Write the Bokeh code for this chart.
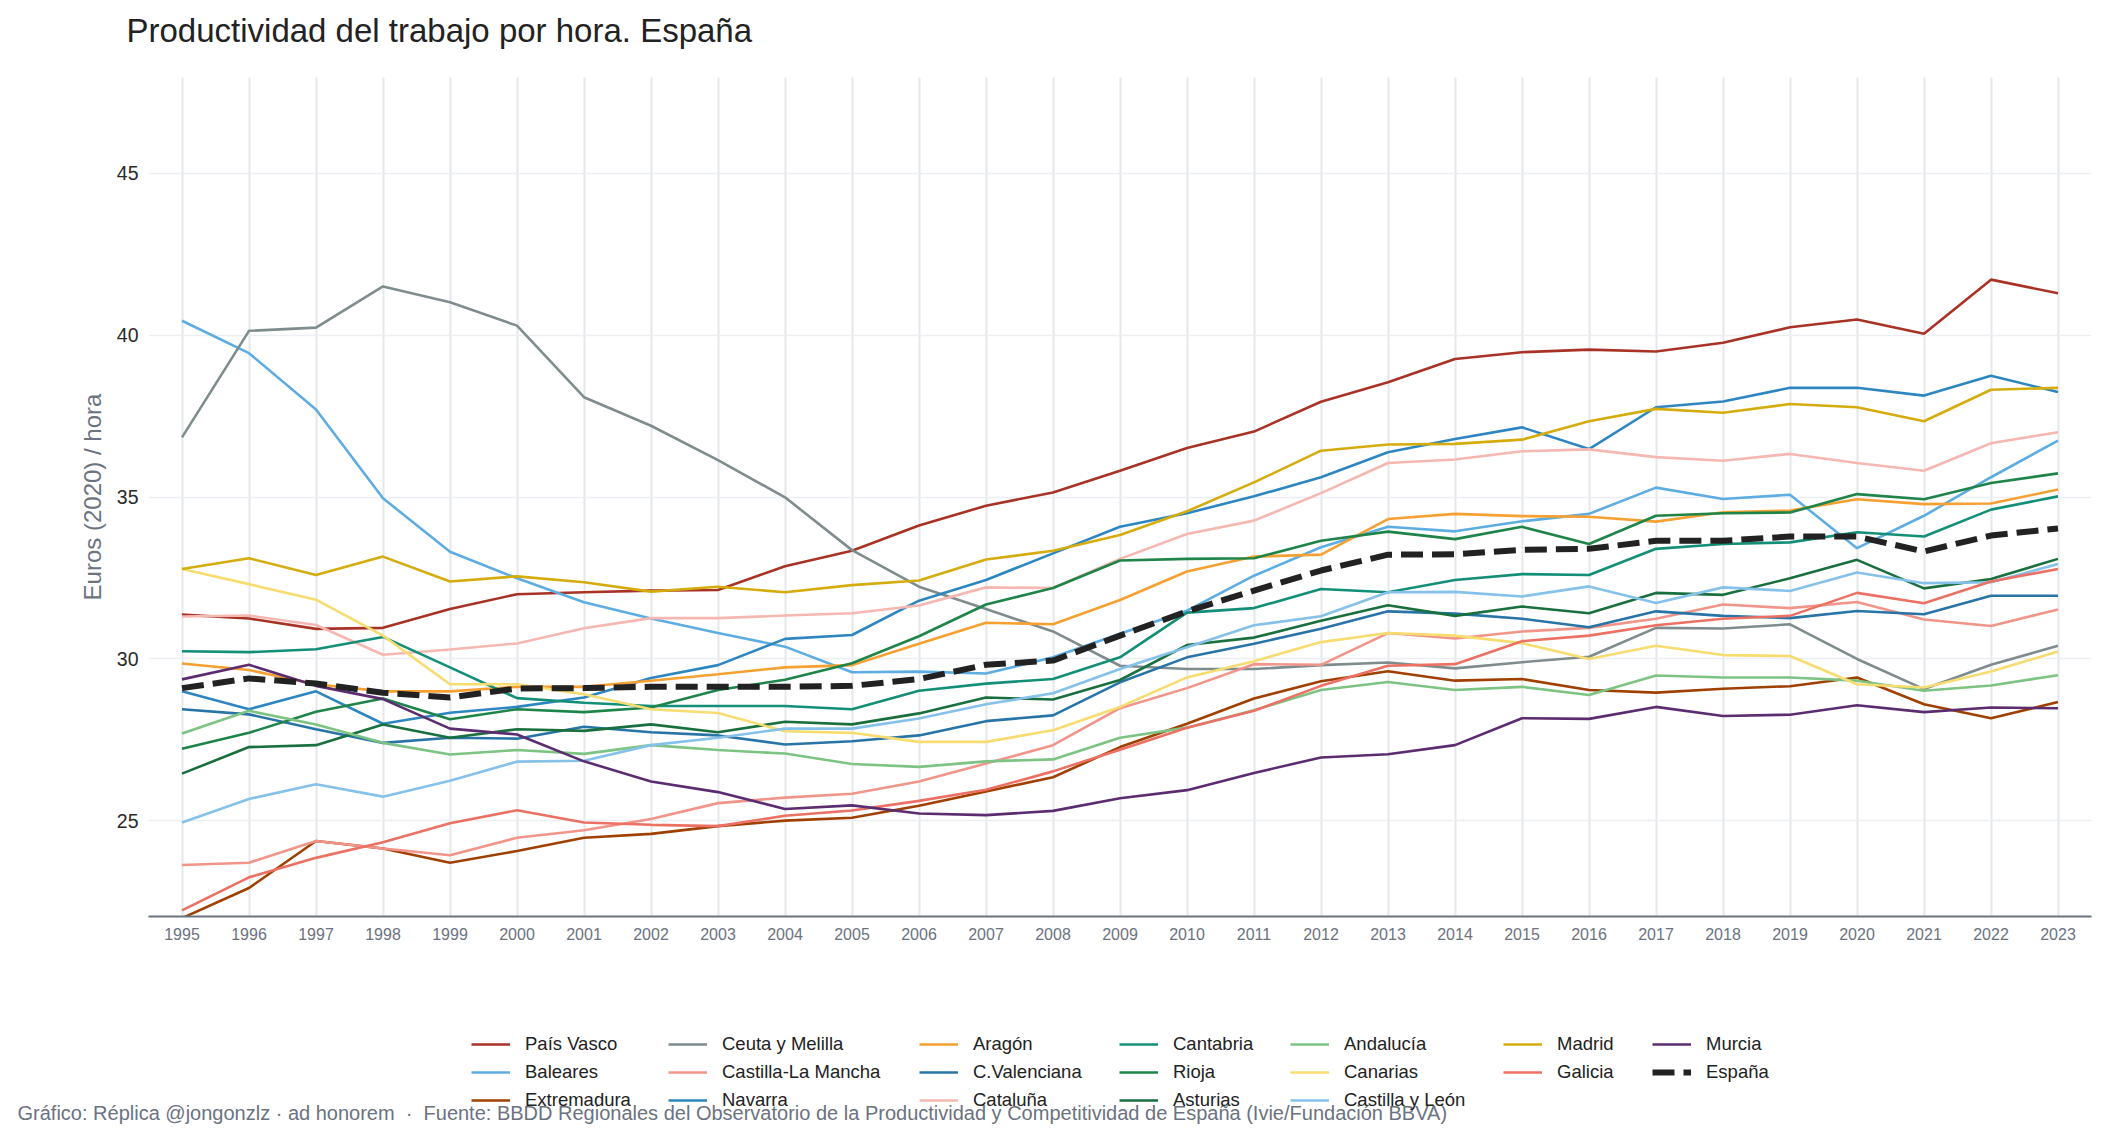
from bokeh.plotting import figure
from bokeh.layouts import column
from bokeh.models import Legend, LegendItem, Label, FixedTicker, Range1d
from bokeh.embed import file_html
from bokeh.resources import INLINE

# --- data: labour productivity per hour, euros (2020) ---
years = list(range(1995, 2024))

pais_vasco = [31.37, 31.25, 30.93, 30.96, 31.54, 32.00, 32.06, 32.11, 32.13, 32.86,
              33.34, 34.12, 34.73, 35.14, 35.81, 36.51, 37.02, 37.94, 38.54, 39.26,
              39.47, 39.55, 39.49, 39.76, 40.24, 40.48, 40.04, 41.71, 41.29]
baleares = [40.44, 39.44, 37.70, 34.96, 33.31, 32.49, 31.75, 31.25, 30.80, 30.38,
            29.59, 29.61, 29.55, 30.05, 30.78, 31.49, 32.57, 33.45, 34.08, 33.94,
            34.25, 34.48, 35.29, 34.94, 35.07, 33.42, 34.42, 35.61, 36.74]
extremadura = [22.00, 22.93, 24.38, 24.15, 23.71, 24.07, 24.48, 24.60, 24.84, 25.01,
               25.10, 25.47, 25.91, 26.35, 27.28, 28.00, 28.78, 29.31, 29.62, 29.33,
               29.38, 29.04, 28.96, 29.08, 29.16, 29.43, 28.60, 28.17, 28.67]
ceuta_melilla = [36.84, 40.13, 40.23, 41.50, 41.01, 40.29, 38.08, 37.20, 36.14, 34.99,
                 33.36, 32.23, 31.54, 30.85, 29.79, 29.69, 29.69, 29.81, 29.89, 29.71,
                 29.90, 30.07, 30.96, 30.94, 31.07, 30.00, 29.07, 29.82, 30.41]
castilla_la_mancha = [23.64, 23.71, 24.38, 24.15, 23.94, 24.48, 24.71, 25.06, 25.55, 25.72,
                      25.84, 26.22, 26.77, 27.34, 28.48, 29.10, 29.84, 29.82, 30.80, 30.63,
                      30.85, 30.96, 31.24, 31.68, 31.57, 31.76, 31.22, 31.02, 31.53]
navarra = [29.00, 28.45, 29.00, 28.00, 28.34, 28.52, 28.81, 29.41, 29.81, 30.62,
           30.74, 31.80, 32.44, 33.26, 34.08, 34.50, 35.02, 35.61, 36.38, 36.79,
           37.15, 36.48, 37.77, 37.95, 38.37, 38.37, 38.13, 38.74, 38.24]
aragon = [29.86, 29.66, 29.22, 29.00, 29.00, 29.14, 29.14, 29.33, 29.53, 29.74,
          29.81, 30.47, 31.12, 31.07, 31.82, 32.70, 33.16, 33.22, 34.32, 34.48,
          34.41, 34.39, 34.24, 34.53, 34.58, 34.93, 34.78, 34.80, 35.23]
c_valenciana = [28.45, 28.29, 27.83, 27.41, 27.57, 27.54, 27.91, 27.74, 27.64, 27.36,
                27.46, 27.64, 28.08, 28.26, 29.28, 30.05, 30.47, 30.93, 31.47, 31.40,
                31.24, 30.98, 31.47, 31.33, 31.26, 31.48, 31.38, 31.95, 31.95]
cataluna = [31.31, 31.34, 31.05, 30.13, 30.29, 30.48, 30.95, 31.26, 31.26, 31.34,
            31.41, 31.65, 32.21, 32.19, 33.09, 33.86, 34.27, 35.12, 36.05, 36.16,
            36.41, 36.47, 36.23, 36.12, 36.33, 36.05, 35.81, 36.66, 37.00]
cantabria = [30.24, 30.21, 30.30, 30.68, 29.74, 28.79, 28.65, 28.55, 28.55, 28.55,
             28.45, 29.02, 29.24, 29.38, 30.05, 31.43, 31.57, 32.16, 32.06, 32.44,
             32.62, 32.59, 33.40, 33.55, 33.60, 33.91, 33.78, 34.61, 35.02]
rioja = [27.23, 27.72, 28.37, 28.78, 28.14, 28.45, 28.36, 28.50, 29.04, 29.36,
         29.87, 30.70, 31.68, 32.19, 33.04, 33.09, 33.11, 33.65, 33.93, 33.70,
         34.08, 33.55, 34.42, 34.50, 34.52, 35.09, 34.93, 35.43, 35.73]
asturias = [26.46, 27.28, 27.34, 27.98, 27.57, 27.83, 27.78, 27.98, 27.74, 28.06,
            27.98, 28.32, 28.81, 28.75, 29.35, 30.43, 30.66, 31.18, 31.66, 31.33,
            31.62, 31.41, 32.04, 31.98, 32.49, 33.06, 32.18, 32.47, 33.09]
andalucia = [27.70, 28.40, 27.98, 27.41, 27.05, 27.19, 27.07, 27.34, 27.19, 27.08,
             26.76, 26.67, 26.84, 26.90, 27.57, 27.88, 28.42, 29.04, 29.29, 29.04,
             29.14, 28.89, 29.49, 29.43, 29.43, 29.33, 29.02, 29.18, 29.50]
canarias = [32.78, 32.31, 31.83, 30.72, 29.22, 29.22, 28.91, 28.45, 28.33, 27.77,
            27.72, 27.44, 27.44, 27.80, 28.52, 29.43, 29.93, 30.52, 30.80, 30.72,
            30.49, 30.00, 30.41, 30.12, 30.09, 29.22, 29.12, 29.61, 30.23]
castilla_leon = [24.95, 25.68, 26.13, 25.75, 26.24, 26.83, 26.86, 27.34, 27.57, 27.85,
                 27.85, 28.16, 28.60, 28.94, 29.69, 30.36, 31.04, 31.32, 32.06, 32.07,
                 31.93, 32.24, 31.73, 32.21, 32.10, 32.67, 32.34, 32.37, 32.93]
madrid = [32.78, 33.11, 32.59, 33.16, 32.39, 32.55, 32.37, 32.08, 32.23, 32.06,
          32.28, 32.42, 33.07, 33.34, 33.83, 34.56, 35.45, 36.43, 36.62, 36.64,
          36.77, 37.34, 37.72, 37.60, 37.87, 37.77, 37.34, 38.31, 38.37]
galicia = [22.24, 23.26, 23.86, 24.34, 24.93, 25.33, 24.95, 24.88, 24.84, 25.16,
           25.32, 25.62, 25.96, 26.53, 27.20, 27.88, 28.40, 29.17, 29.79, 29.84,
           30.55, 30.72, 31.04, 31.24, 31.33, 32.04, 31.72, 32.39, 32.78]
murcia = [29.37, 29.82, 29.17, 28.76, 27.85, 27.67, 26.84, 26.22, 25.89, 25.37,
          25.48, 25.23, 25.18, 25.31, 25.70, 25.95, 26.48, 26.96, 27.06, 27.34,
          28.17, 28.15, 28.52, 28.24, 28.28, 28.57, 28.36, 28.50, 28.48]
espana = [29.10, 29.40, 29.24, 28.96, 28.81, 29.09, 29.10, 29.14, 29.14, 29.14,
          29.17, 29.38, 29.82, 29.95, 30.72, 31.47, 32.11, 32.73, 33.22, 33.23,
          33.37, 33.40, 33.65, 33.65, 33.78, 33.78, 33.32, 33.81, 34.03]

y_ticks = [25, 30, 35, 40, 45]

regions = [
    ("País Vasco", pais_vasco, "#a93226"),
    ("Baleares", baleares, "#5dade2"),
    ("Extremadura", extremadura, "#a04000"),
    ("Ceuta y Melilla", ceuta_melilla, "#7f8c8d"),
    ("Castilla-La Mancha", castilla_la_mancha, "#f1948a"),
    ("Navarra", navarra, "#2e86c1"),
    ("Aragón", aragon, "#f5a031"),
    ("C.Valenciana", c_valenciana, "#2874a6"),
    ("Cataluña", cataluna, "#f5b7b1"),
    ("Cantabria", cantabria, "#148f77"),
    ("Rioja", rioja, "#1e8449"),
    ("Asturias", asturias, "#196f3d"),
    ("Andalucía", andalucia, "#7dc383"),
    ("Canarias", canarias, "#f7dc6f"),
    ("Castilla y León", castilla_leon, "#85c1e9"),
    ("Madrid", madrid, "#d4ac0d"),
    ("Galicia", galicia, "#ec7063"),
    ("Murcia", murcia, "#5b2c6f"),
]
ESP_STYLE = dict(line_color="#222222", line_width=6, line_dash="22 9")
LINE_W = 2.6

FONT = "Liberation Sans"
W = 2109
TOP_H, MAIN_H, BOT_H = 77, 883, 180
NAN = float("nan")
NBSP = "\u00a0"


def blank(height):
    f = figure(width=W, height=height, output_backend="svg", toolbar_location=None,
               x_range=Range1d(0, W), y_range=Range1d(0, height),
               x_axis_location=None, y_axis_location=None,
               min_border=0, min_border_left=0, min_border_right=0,
               min_border_top=0, min_border_bottom=0)
    f.frame_align = False
    f.grid.visible = False
    f.outline_line_color = None
    f.background_fill_color = "white"
    f.border_fill_color = "white"
    return f


# --- title strip ---
top = blank(TOP_H)
top.add_layout(Label(x=126, y=TOP_H - 30, text="Productividad del trabajo por hora. España",
                     text_font=FONT, text_font_size="33px", text_color="#222222",
                     text_baseline="middle"))

# --- main chart ---
p = figure(width=W, height=MAIN_H, output_backend="svg", toolbar_location=None,
           x_range=Range1d(1994.5, 2023.5), y_range=Range1d(22.05, 47.95),
           min_border_left=148, min_border_right=18, min_border_top=0,
           min_border_bottom=MAIN_H - 839)
p.frame_align = False
p.outline_line_color = None
p.background_fill_color = "white"
p.border_fill_color = "white"

p.xaxis.ticker = FixedTicker(ticks=years)
p.xaxis.axis_line_color = "#6b7280"
p.xaxis.axis_line_width = 2
p.xaxis.major_tick_line_color = None
p.xaxis.minor_tick_line_color = None
p.xaxis.major_label_text_color = "#6b7280"
p.xaxis.major_label_text_font = FONT
p.xaxis.major_label_text_font_size = "16px"
p.xaxis.major_label_standoff = 5

p.yaxis.ticker = FixedTicker(ticks=y_ticks)
p.yaxis.axis_line_color = None
p.yaxis.major_tick_line_color = None
p.yaxis.minor_tick_line_color = None
p.yaxis.major_label_text_color = "#2a2a2a"
p.yaxis.major_label_text_font = FONT
p.yaxis.major_label_text_font_size = "19.5px"
p.yaxis.major_label_standoff = 4
p.yaxis.axis_label = "Euros (2020) / hora"
p.yaxis.axis_label_text_color = "#6b7280"
p.yaxis.axis_label_text_font = FONT
p.yaxis.axis_label_text_font_size = "24px"
p.yaxis.axis_label_text_font_style = "normal"
p.yaxis.axis_label_standoff = 8

p.xgrid.grid_line_color = "#e5e7eb"
p.xgrid.grid_line_width = 2
p.ygrid.grid_line_color = "#eceef1"
p.ygrid.grid_line_width = 1.5

for name, vals, color in regions:
    p.line(years, vals, line_color=color, line_width=LINE_W)
p.line(years, espana, **ESP_STYLE)

# --- legend and source strip ---
bot = blank(BOT_H)
keys = {}
for name, vals, color in regions:
    keys[name] = bot.line([NAN, NAN], [NAN, NAN], line_color=color, line_width=LINE_W)
keys["España"] = bot.line([NAN, NAN], [NAN, NAN], **ESP_STYLE)

columns = [
    (["País Vasco", "Baleares", "Extremadura"], 471),
    (["Ceuta y Melilla", "Castilla-La Mancha", "Navarra"], 668),
    (["Aragón", "C.Valenciana", "Cataluña"], 919),
    (["Cantabria", "Rioja", "Asturias"], 1119),
    (["Andalucía", "Canarias", "Castilla y León"], 1290),
    (["Madrid", "Galicia"], 1503),
    (["Murcia", "España"], 1652),
]
row_top = 73          # top of the first legend row, from the strip's top edge
item_h, gap = 22, 6
for names, x_px in columns:
    n = len(names)
    h = n * item_h + (n - 1) * gap
    leg = Legend(
        items=[LegendItem(label=nm, renderers=[keys[nm]]) for nm in names],
        location=(x_px, BOT_H - (row_top + h)),
        orientation="vertical",
        glyph_width=39, glyph_height=item_h, label_height=item_h,
        label_standoff=15, spacing=gap, padding=0, margin=0,
        border_line_color=None, background_fill_alpha=0,
        label_text_font=FONT, label_text_font_size="18.5px",
        label_text_color="#222222",
    )
    bot.add_layout(leg)

source_text = ("Gráfico: Réplica @jongonzlz · ad honorem" + NBSP * 2 + "·" + NBSP * 2 +
               "Fuente: BBDD Regionales del Observatorio de la Productividad y "
               "Competitividad de España (Ivie/Fundación BBVA)")
bot.add_layout(Label(x=17, y=BOT_H - 152, text=source_text,
                     text_font=FONT, text_font_size="20px", text_color="#6b7280",
                     text_baseline="middle"))

layout = column(top, p, bot, spacing=0)
open("out.html", "w").write(file_html(layout, INLINE))
